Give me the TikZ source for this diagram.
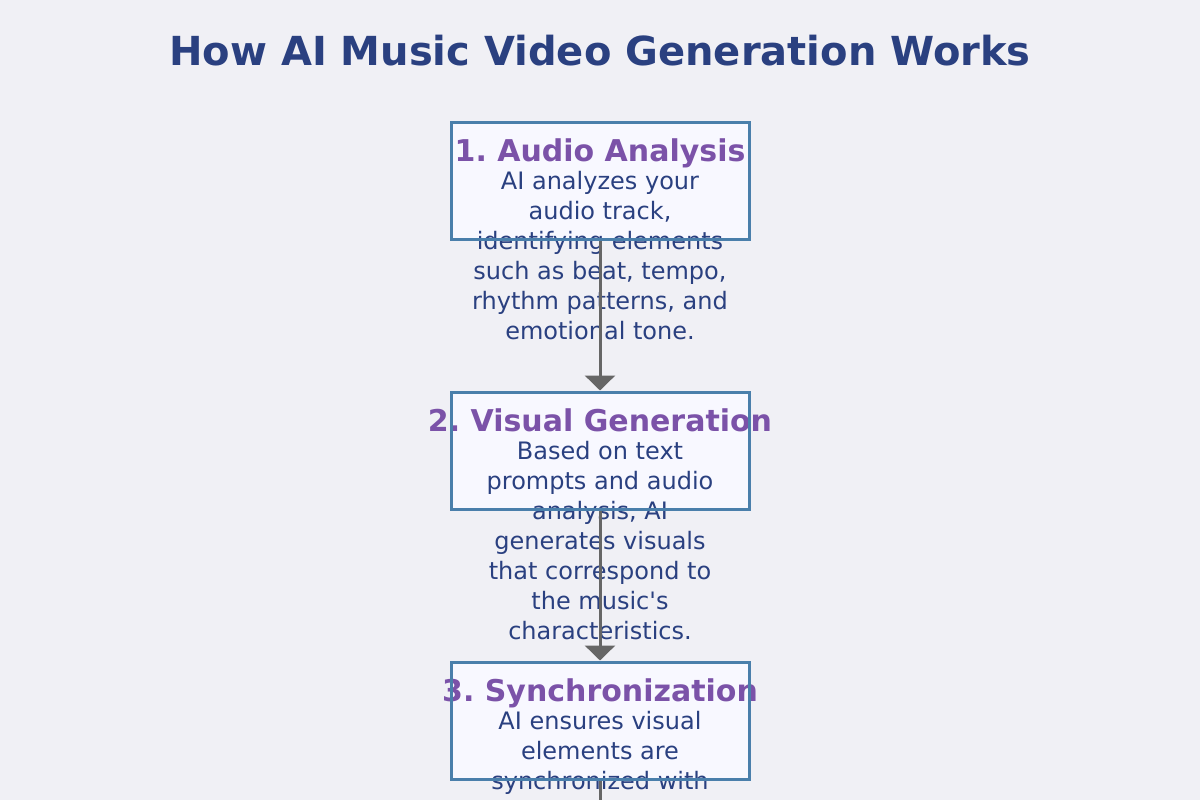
\documentclass[tikz,border=0pt]{standalone}
\usepackage{fontspec}
\setmainfont{DejaVu Sans}
\usetikzlibrary{arrows.meta}
\definecolor{bg}{HTML}{F0F0F5}
\definecolor{navy}{HTML}{2A4080}
\definecolor{purp}{HTML}{7B52A8}
\definecolor{bord}{HTML}{4A7FAB}
\definecolor{boxfill}{HTML}{F8F8FF}
\definecolor{arr}{HTML}{666666}
\tikzset{
  stepbox/.style={draw=bord, line width=3pt, fill=boxfill},
  steptitle/.style={anchor=base, inner sep=0pt, text=purp, font=\fontsize{30}{34}\selectfont\bfseries},
  bodyline/.style={anchor=base, inner sep=0pt, text=navy, font=\fontsize{24}{30}\selectfont},
  flow/.style={draw=arr, line width=3pt, -{Triangle[width=30pt,length=15pt]}},
}
\frenchspacing
\begin{document}
\begin{tikzpicture}[x=1pt,y=-1pt]
\fill[bg] (0,0) rectangle (1200,800);
\useasboundingbox (0,0) rectangle (1200,800);
\clip (0,0) rectangle (1200,800);
\node[anchor=base, inner sep=0pt, text=navy, font=\fontsize{40}{44}\selectfont\bfseries] (title) at (600,66) {How AI Music Video Generation Works};
% box fills
\fill[boxfill] (451,122) rectangle (749,239);
\fill[boxfill] (451,392) rectangle (749,509);
\fill[boxfill] (451,662) rectangle (749,779);
% texts
\node[steptitle] (t1) at (600,161) {1. Audio Analysis};
\foreach \t [count=\i] in {AI analyzes your, {audio track,}, identifying elements, {such as beat, tempo,}, {rhythm patterns, and}, emotional tone.}
  \node[bodyline, name=a\i] at (600,{189+30*(\i-1)}) {\t};
\node[steptitle] (t2) at (600,431) {2. Visual Generation};
\foreach \t [count=\i] in {Based on text, prompts and audio, {analysis, AI}, generates visuals, that correspond to, the music\textquotesingle s, characteristics.}
  \node[bodyline, name=v\i] at (600,{459+30*(\i-1)}) {\t};
\node[steptitle] (t3) at (600,701) {3. Synchronization};
\foreach \t [count=\i] in {AI ensures visual, elements are, synchronized with}
  \node[bodyline, name=s\i] at (600,{729+30*(\i-1)}) {\t};
% box borders
\node[stepbox, fill=none, minimum width=298pt, minimum height=117pt, inner sep=0pt] (b1) at (600,180.5) {};
\node[stepbox, fill=none, minimum width=298pt, minimum height=117pt, inner sep=0pt] (b2) at (600,450.5) {};
\node[stepbox, fill=none, minimum width=298pt, minimum height=117pt, inner sep=0pt] (b3) at (600,720.5) {};
\coordinate (next) at (600,830);
% connectors
\draw[flow] (b1.south) -- (b2.north);
\draw[flow] (b2.south) -- (b3.north);
\draw[draw=arr, line width=3pt] (b3.south) -- (next);
\end{tikzpicture}
\end{document}
